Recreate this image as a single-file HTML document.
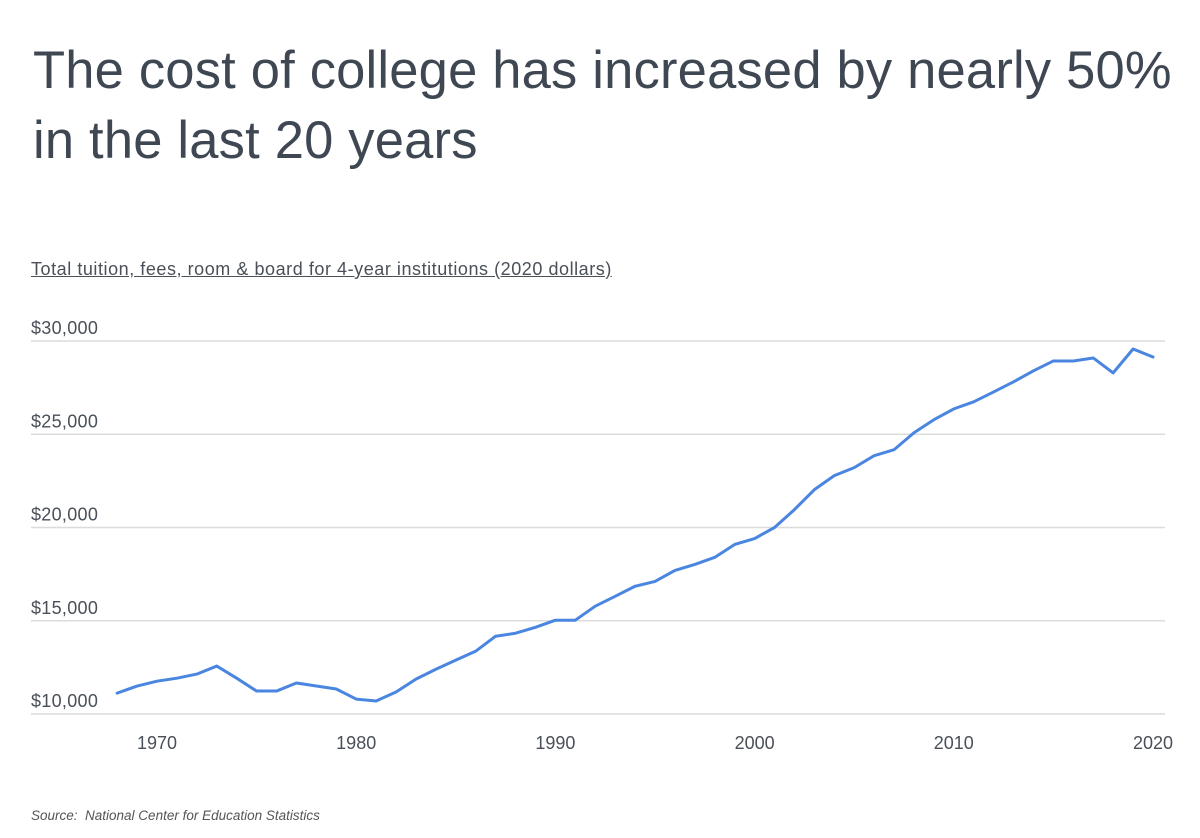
<!DOCTYPE html>
<html><head><meta charset="utf-8">
<style>
body{margin:0;width:1200px;height:838px;background:#fff;font-family:"Liberation Sans",sans-serif;overflow:hidden;position:relative}
#title{position:absolute;left:33px;top:36px;font-size:52.5px;line-height:70px;color:#3e4752;margin:0;font-weight:normal;letter-spacing:0.2px;white-space:nowrap}
#sub{position:absolute;left:31px;top:259px;font-size:18px;letter-spacing:0.55px;color:#4a5058;text-decoration:underline;white-space:nowrap}
#src{position:absolute;left:31px;top:808px;font-size:13.5px;font-style:italic;color:#555}
svg{position:absolute;left:0;top:0}
</style></head><body>
<h1 id="title">The cost of college has increased by nearly 50%<br>in the last 20 years</h1>
<div id="sub">Total tuition, fees, room &amp; board for 4-year institutions (2020 dollars)</div>
<svg id="chart" width="1200" height="838"></svg>
<div id="src">Source:&nbsp; National Center for Education Statistics</div>
<script>
const years=[];for(let y=1968;y<=2020;y++)years.push(y);
const costs=[11120,11500,11760,11920,12140,12570,11920,11230,11230,11660,11500,11340,
10800,10700,11180,11870,12400,12890,13370,14170,14330,14650,
15030,15030,15780,16310,16850,17110,17700,18020,18400,19090,
19410,20000,20960,22030,22780,23210,23850,24170,25080,25780,
26360,26740,27270,27810,28400,28930,28930,29090,28290,29570,29140];
const yTicks=[10000,15000,20000,25000,30000];
const yTickLabels=["$10,000","$15,000","$20,000","$25,000","$30,000"];
const xTicks=[1970,1980,1990,2000,2010,2020];
const NS="http://www.w3.org/2000/svg";
const svg=document.getElementById('chart');
const xs=y=>157+(y-1970)*(1153-157)/50;
const ys=v=>714-(v-10000)*(714-341)/20000;
function mk(t,a){const e=document.createElementNS(NS,t);for(const k in a)e.setAttribute(k,a[k]);svg.appendChild(e);return e;}
yTicks.forEach((v,i)=>{
 const l=mk('line',{x1:31,x2:1165,y1:ys(v),y2:ys(v),stroke:'#dcdcdc','stroke-width':1.5});
 
 
 const t=mk('text',{x:31,y:ys(v)-7,'font-size':18,'letter-spacing':0.3,fill:'#4a5058','font-family':'Liberation Sans, sans-serif'});
 t.textContent=yTickLabels[i];
 
 
});
xTicks.forEach(yr=>{
 const t=mk('text',{x:xs(yr),y:749,'font-size':18,fill:'#4a5058','text-anchor':'middle','font-family':'Liberation Sans, sans-serif'});
 t.textContent=yr;
 
 
});
const p=mk('polyline',{points:years.map((y,i)=>xs(y)+','+ys(costs[i])).join(' '),fill:'none',stroke:'#4a86e0','stroke-width':3,'stroke-linejoin':'round','stroke-linecap':'round'});


</script>
</body></html>
